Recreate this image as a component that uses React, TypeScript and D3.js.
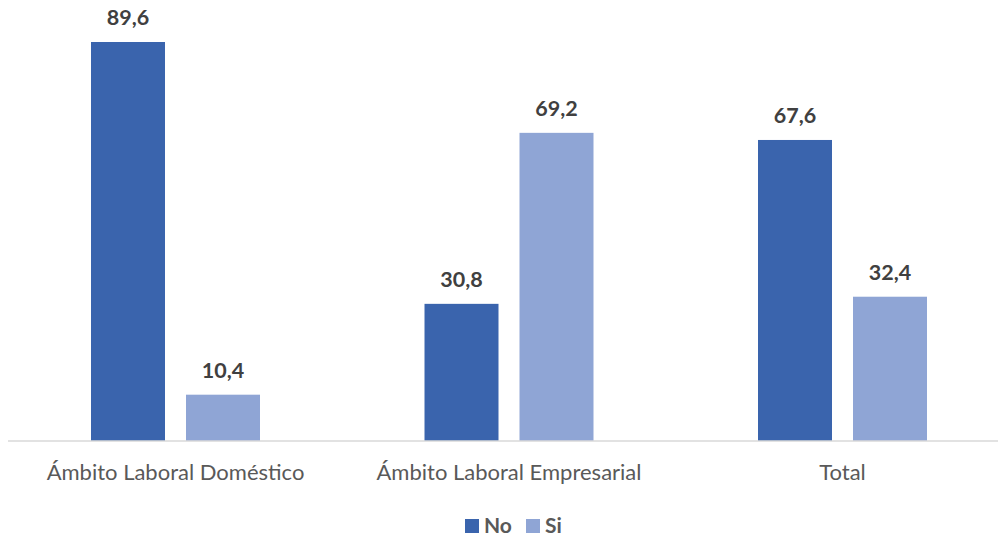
import React from "react";
import * as d3 from "d3";

const categories = ["Ámbito Laboral Doméstico", "Ámbito Laboral Empresarial", "Total"];
const seriesNames = ["No", "Si"];
const noValues = [89.6, 30.8, 67.6];
const siValues = [10.4, 69.2, 32.4];
const seriesColors = ["#3A64AD", "#8FA5D5"];

const W = 998;
const H = 537;
const baseY = 441;
const FONT = "Lato, 'Open Sans', sans-serif";

export default function App() {
  const x0 = d3
    .scaleBand<string>()
    .domain(categories)
    .range([8.75, 1009.25])
    .paddingInner(0.4933)
    .paddingOuter(0.4933 / 2);
  const x1 = d3
    .scaleBand<string>()
    .domain(seriesNames)
    .range([0, x0.bandwidth()])
    .paddingInner(0.2211)
    .paddingOuter(0);
  const y = d3.scaleLinear().domain([0, 89.6]).range([baseY, 42]);
  const fmt = (v: number) => d3.format(".1f")(v).replace(".", ",");

  const series = [noValues, siValues];

  return (
    <svg
      width={W}
      height={H}
      style={{ position: "absolute", left: 0, top: 0, background: "#fff" }}
      fontFamily={FONT}
    >
      {categories.map((c, i) => (
        <g key={c} transform={`translate(${x0(c)},0)`}>
          {seriesNames.map((s, j) => {
            const v = series[j][i];
            const bx = x1(s)!;
            return (
              <g key={s}>
                <rect
                  x={bx}
                  y={y(v)}
                  width={x1.bandwidth()}
                  height={baseY - y(v)}
                  fill={seriesColors[j]}
                />
                <text
                  x={bx + x1.bandwidth() / 2}
                  y={y(v) - 17}
                  textAnchor="middle"
                  fontSize={21.5}
                  fontWeight="bold"
                  fill="#404040"
                >
                  {fmt(v)}
                </text>
              </g>
            );
          })}
          <text
            x={x0.bandwidth() / 2}
            y={480}
            textAnchor="middle"
            fontSize={22}
            fill="#595959"
          >
            {c}
          </text>
        </g>
      ))}
      <line x1={8} x2={998} y1={baseY} y2={baseY} stroke="#D9D9D9" strokeWidth={1.5} />
      <g>
        <rect x={465} y={519} width={14} height={14} fill={seriesColors[0]} />
        <text x={484} y={533} fontSize={21} fontWeight="bold" fill="#595959">
          {seriesNames[0]}
        </text>
        <rect x={526} y={519} width={14} height={14} fill={seriesColors[1]} />
        <text x={545} y={533} fontSize={21} fontWeight="bold" fill="#595959">
          {seriesNames[1]}
        </text>
      </g>
    </svg>
  );
}
